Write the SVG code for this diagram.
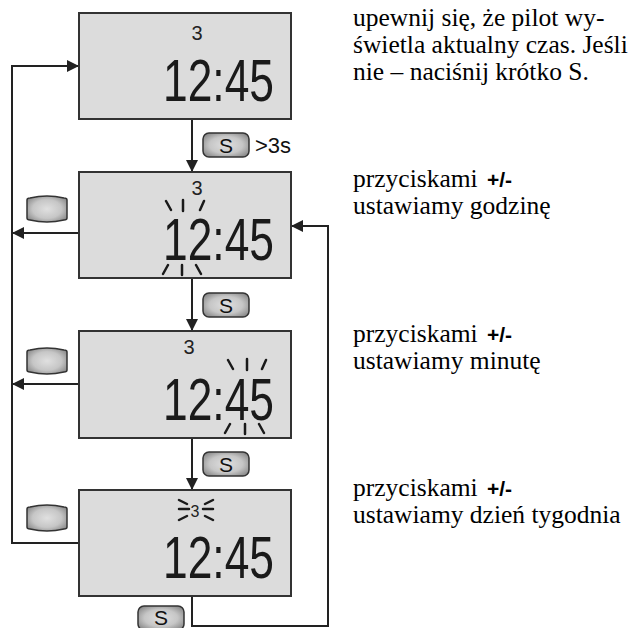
<svg xmlns="http://www.w3.org/2000/svg" width="643" height="628" viewBox="0 0 643 628">
<defs>
<style>
.lcd{fill:#dcdcdc;stroke:#333;stroke-width:2}
.dig{font-family:"Liberation Sans",Arial,sans-serif;font-size:60px;fill:#1a1a1a}
.day{font-family:"Liberation Sans",Arial,sans-serif;font-size:20px;fill:#222;text-anchor:middle}
.ray{stroke:#1a1a1a;stroke-width:2.5;stroke-linecap:round;fill:none}
.con{stroke:#222;stroke-width:2;fill:none}
.btn{fill:url(#bg);stroke:#333;stroke-width:1.5}
.bl{font-family:"Liberation Sans",Arial,sans-serif;font-size:21px;fill:#111;text-anchor:middle}
.gt{font-family:"Liberation Sans",Arial,sans-serif;font-size:22px;fill:#111}
.desc{font-family:"Liberation Serif","Times New Roman",serif;font-size:25.5px;fill:#000}
.pm{font-family:"Liberation Sans",Arial,sans-serif;font-size:21px;font-weight:bold;fill:#000}
</style>
<radialGradient id="bg" cx="0.5" cy="0.5" r="0.6">
<stop offset="0" stop-color="#e0e0e0"/><stop offset="0.6" stop-color="#c6c6c6"/><stop offset="1" stop-color="#8c8c8c"/>
</radialGradient>
<marker id="ah" markerUnits="userSpaceOnUse" markerWidth="12" markerHeight="12" refX="12" refY="6" orient="auto"><path d="M0,0 L12,6 L0,12 z" fill="#222"/></marker>
<path id="blank" class="btn" d="M27,200 Q27,198 30,198 Q47,194 64,198 Q67,198 67,200 L67,218 Q67,220 64,220 Q47,224 30,220 Q27,220 27,218 Z"/>
<rect id="sbtn" class="btn" x="0" y="0" width="46" height="24" rx="6"/>
</defs>
<rect width="643" height="628" fill="#fff"/>

<g id="connectors">
<path class="con" d="M192,119 V172" marker-end="url(#ah)"/>
<path class="con" d="M192,278 V331" marker-end="url(#ah)"/>
<path class="con" d="M192,438 V490" marker-end="url(#ah)"/>
<path class="con" d="M79,233 H12" marker-end="url(#ah)"/>
<path class="con" d="M79,384 H12" marker-end="url(#ah)"/>
<path class="con" d="M79,543 H12 V66 H79" marker-end="url(#ah)"/>
<path class="con" d="M192,596 V626 H328 V226 H291" marker-end="url(#ah)"/>
</g>

<g id="buttons">
<use href="#blank"/>
<use href="#blank" y="152"/>
<use href="#blank" y="309"/>
<g transform="translate(203,133)"><use href="#sbtn"/><text class="bl" x="23" y="19.5">S</text></g>
<text class="gt" x="255" y="153">&gt;3s</text>
<g transform="translate(203,293)"><use href="#sbtn"/><text class="bl" x="23" y="19.5">S</text></g>
<g transform="translate(203,452)"><use href="#sbtn"/><text class="bl" x="23" y="19.5">S</text></g>
<g transform="translate(138,606)"><use href="#sbtn"/><text class="bl" x="23" y="19">S</text></g>
</g>

<g id="lcd1">
<rect class="lcd" x="79" y="13" width="212" height="106"/>
<text class="day" x="197" y="40">3</text>
<text class="dig" x="163" y="101" textLength="111" lengthAdjust="spacingAndGlyphs">12:45</text>
</g>

<g id="lcd2">
<rect class="lcd" x="79" y="172" width="212" height="106"/>
<text class="day" x="197" y="195">3</text>
<text class="dig" x="163" y="260" textLength="111" lengthAdjust="spacingAndGlyphs">12:45</text>
<path class="ray" d="M166,201 L171,210 M183,200 V211 M204,201 L200,210 M168,265 L163,274 M182,265 V275 M196,265 L201,274"/>
</g>

<g id="lcd3">
<rect class="lcd" x="79" y="331" width="212" height="107"/>
<text class="day" x="189" y="354">3</text>
<text class="dig" x="163" y="420" textLength="111" lengthAdjust="spacingAndGlyphs">12:45</text>
<path class="ray" d="M228,360 L233,369 M247,359 V370 M266,360 L262,369 M230,424 L225,433 M245,424 V434 M259,424 L264,433"/>
</g>

<g id="lcd4">
<rect class="lcd" x="79" y="490" width="212" height="106"/>
<text class="day" x="195" y="517" style="font-size:16px">3</text>
<path class="ray" d="M179,500 L187,504 M179,509 H189 M179,520 L187,516 M213,500 L205,504 M203,509 H213 M213,520 L205,516"/>
<text class="dig" x="163" y="578" textLength="111" lengthAdjust="spacingAndGlyphs">12:45</text>
</g>

<g id="desc1">
<text class="desc" x="353" y="26">upewnij się, że pilot wy-</text>
<text class="desc" x="353" y="53">świetla aktualny czas. Jeśli</text>
<text class="desc" x="353" y="80">nie – naciśnij krótko S.</text>
</g>
<g id="desc2">
<text class="desc" x="353" y="187">przyciskami</text>
<text class="pm" x="487" y="187">+/-</text>
<text class="desc" x="353" y="214">ustawiamy godzinę</text>
</g>
<g id="desc3">
<text class="desc" x="353" y="342">przyciskami</text>
<text class="pm" x="487" y="342">+/-</text>
<text class="desc" x="353" y="369">ustawiamy minutę</text>
</g>
<g id="desc4">
<text class="desc" x="353" y="496">przyciskami</text>
<text class="pm" x="487" y="496">+/-</text>
<text class="desc" x="353" y="523">ustawiamy dzień tygodnia</text>
</g>
</svg>
